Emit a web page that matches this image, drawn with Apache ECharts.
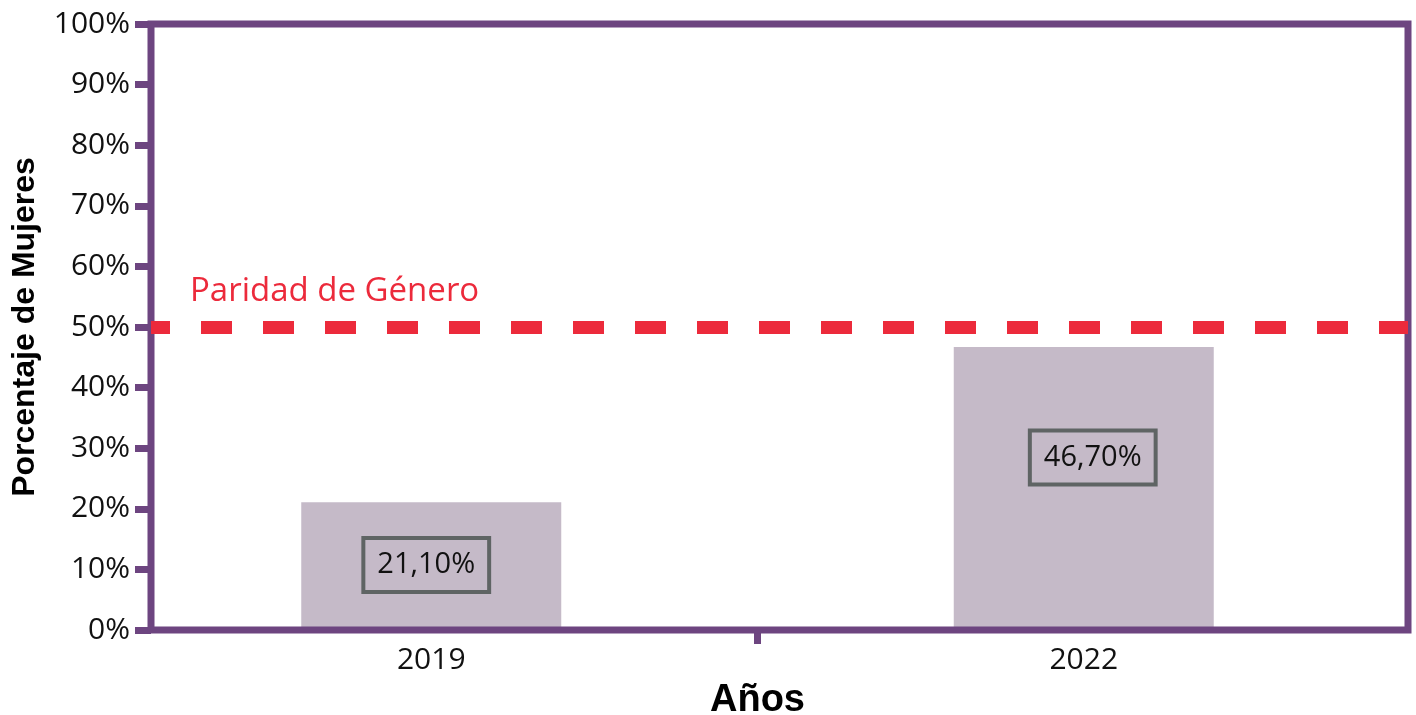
<!DOCTYPE html>
<html>
<head>
<meta charset="utf-8">
<script src="https://cdn.jsdelivr.net/npm/echarts@6/dist/echarts.min.js"></script>
<style>
  html, body { margin: 0; padding: 0; background: #ffffff; }
  #chart { width: 1416px; height: 715px; }
</style>
</head>
<body>
<div id="chart"></div>
<script>
// ---- data ----
const categories = ['2019', '2022'];
const womenPct = [21.1, 46.7];
const parityLevel = 50;
const parityLabel = 'Paridad de Género';
const yAxisTitle = 'Porcentaje de Mujeres';
const xAxisTitle = 'Años';

// ---- styling ----
const PURPLE = '#6d4580';
const BAR = '#c5bac8';
const RED = '#ec2a3b';
const BOX = '#5f6464';
const FONT = "'Open Sans', sans-serif";
const BOLD_FONT = "'Liberation Sans', Arial, sans-serif";
const labelShift = [[-5, -1], [9, -31]];

const fmtPct = v => v.toFixed(2).replace('.', ',') + '%';

const chart = echarts.init(document.getElementById('chart'), null, { renderer: 'canvas' });

const option = {
  animation: false,
  backgroundColor: '#ffffff',
  grid: [
    { left: 151, right: 8, top: 24, bottom: 85, show: true, z: 3,
      outerBoundsMode: 'none', containLabel: false,
      backgroundColor: 'transparent', borderColor: PURPLE, borderWidth: 7 },
    { left: 105, right: 6, top: 24, bottom: 85, show: false,
      outerBoundsMode: 'none', containLabel: false }
  ],
  xAxis: [
    { gridIndex: 0, type: 'value', min: 0, max: 1, show: false },
    { gridIndex: 1, type: 'category', data: categories, position: 'bottom',
      boundaryGap: true,
      axisLine: { show: false }, axisTick: { show: false },
      axisLabel: { color: '#111', fontFamily: FONT, fontSize: 30, margin: 15 },
      name: xAxisTitle, nameLocation: 'middle', nameGap: 52,
      nameTextStyle: { color: '#000', fontFamily: BOLD_FONT, fontWeight: 'bold', fontSize: 38 } },
    { gridIndex: 1, type: 'category', data: ['', '', ''], position: 'bottom',
      boundaryGap: false,
      axisLine: { show: false }, axisLabel: { show: false },
      axisTick: { show: true, length: 14, interval: (i) => i === 1,
        lineStyle: { color: PURPLE, width: 7 } }, z: 1 }
  ],
  yAxis: [
    { gridIndex: 0, type: 'value', min: 0, max: 100, interval: 10,
      splitLine: { show: false },
      axisLine: { show: false },
      axisTick: { show: true, inside: false, length: 16, lineStyle: { color: PURPLE, width: 7 } },
      axisLabel: { formatter: '{value}%', color: '#111', fontFamily: FONT, fontSize: 30, margin: 21 },
      name: yAxisTitle, nameLocation: 'middle', nameRotate: 90, nameGap: 110,
      nameTextStyle: { color: '#000', fontFamily: BOLD_FONT, fontWeight: 'bold', fontSize: 32 } },
    { gridIndex: 1, type: 'value', min: 0, max: 100, show: false }
  ],
  series: [
    {
      type: 'bar', xAxisIndex: 1, yAxisIndex: 1, barWidth: 260,
      itemStyle: { color: BAR },
      data: womenPct.map((v, i) => ({
        value: v,
        label: { offset: labelShift[i] }
      })),
      label: {
        show: true, position: 'inside',
        formatter: p => fmtPct(p.value),
        color: '#111', fontFamily: FONT, fontSize: 29, lineHeight: 32,
        borderColor: BOX, borderWidth: 4, padding: [11, 14]
      },
      z: 2
    },
    {
      type: 'line', xAxisIndex: 0, yAxisIndex: 0, data: [],
      markLine: {
        silent: true, symbol: ['none', 'none'],
        lineStyle: { color: RED, width: 13, type: [31, 31], dashOffset: 12 },
        label: { show: true, position: 'insideStartTop', formatter: parityLabel,
          color: RED, fontFamily: FONT, fontSize: 33, distance: [39, 19] },
        data: [{ yAxis: parityLevel }]
      }
    }
  ]
};
chart.setOption(option);
</script>
</body>
</html>
